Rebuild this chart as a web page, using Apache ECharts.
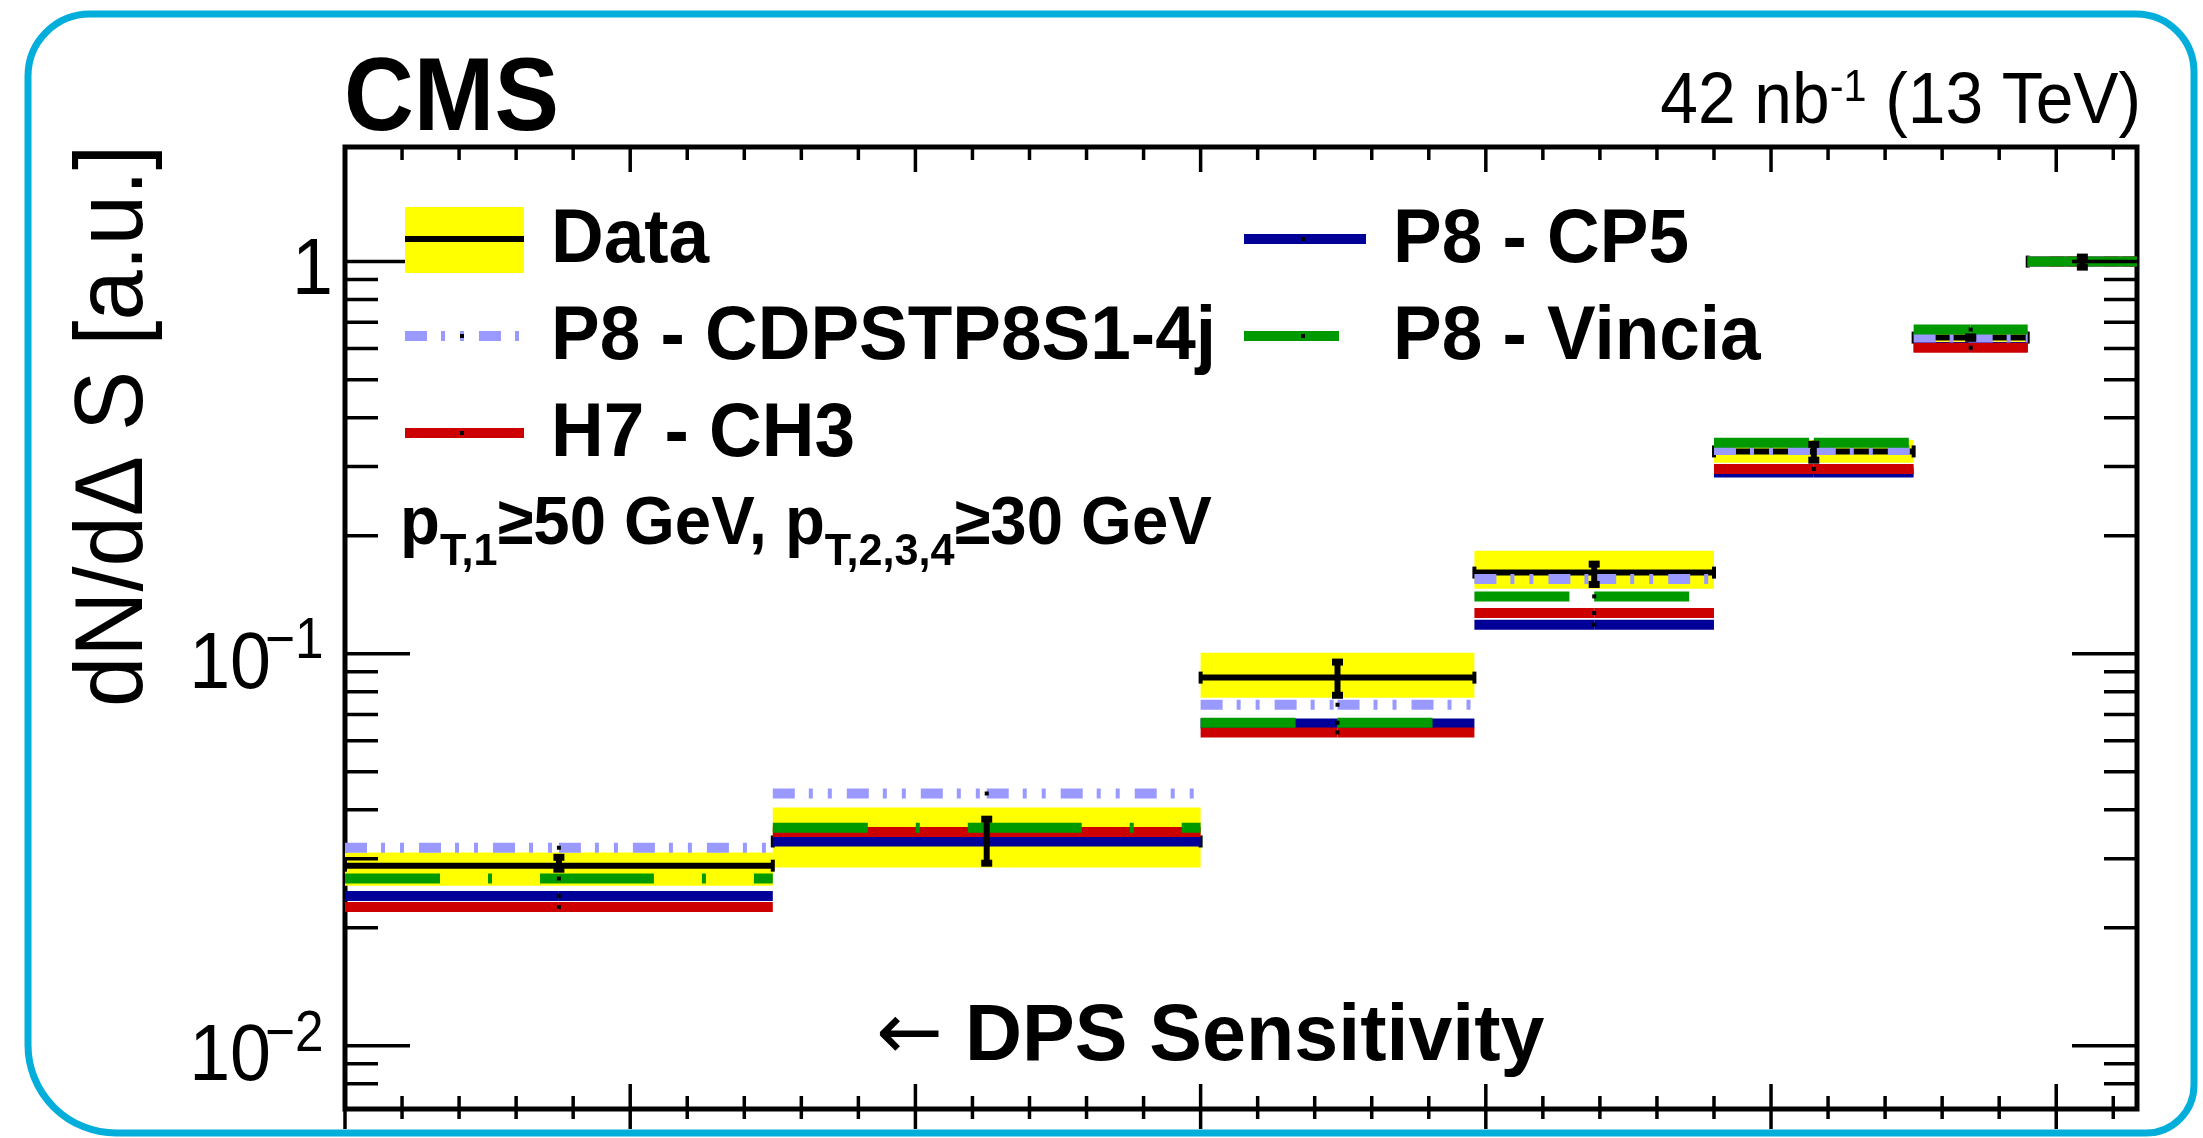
<!DOCTYPE html>
<html>
<head>
<meta charset="utf-8">
<title>dN/dΔS</title>
<script src="https://cdn.jsdelivr.net/npm/echarts@6/dist/echarts.min.js"></script>
<style>
  html, body { margin: 0; padding: 0; background: #ffffff; }
  #chart { width: 2203px; height: 1138px; }
</style>
</head>
<body>
<div id="chart"></div>
<script>
// ΔS bin edges (radians, 0 .. π)
const binEdges = [0, 0.75, 1.5, 1.98, 2.4, 2.75, 2.95, 3.1416];

// Measured distribution: central value, statistical range, total uncertainty band
const dataValues   = [0.0288, 0.0332, 0.0869, 0.161, 0.328, 0.640, 1.0];
const dataStatLow  = [0.0278, 0.0288, 0.0772, 0.148, 0.307, 0.628, 0.954];
const dataStatHigh = [0.0307, 0.0384, 0.0966, 0.1717, 0.347, 0.652, 1.042];
const bandLow      = [0.0256, 0.0285, 0.0772, 0.1465, 0.307, 0.625, 0.995];
const bandHigh     = [0.0311, 0.0405, 0.1006, 0.183, 0.351, 0.655, 1.005];

// Generator predictions
const cdpsValues   = [0.0320, 0.0440, 0.0741, 0.155, 0.331, 0.640, 1.0];
const h7Values     = [0.0226, 0.0351, 0.0630, 0.127, 0.296, 0.603, 1.0];
const cp5Values    = [0.0241, 0.0332, 0.0664, 0.1186, 0.290, 0.606, 1.0];
const vinciaValues = [0.0267, 0.0360, 0.0667, 0.140, 0.345, 0.671, 1.0];

// Axis ranges, ticks and labels
const xMin = binEdges[0];
const xMax = binEdges[binEdges.length - 1];
const yMin = 0.0069;
const yMax = 1.96;
const xMajorTicks = [0, 0.5, 1, 1.5, 2, 2.5, 3];
const xMinorTicks = [0.1, 0.2, 0.3, 0.4, 0.6, 0.7, 0.8, 0.9, 1.1, 1.2, 1.3, 1.4,
                     1.6, 1.7, 1.8, 1.9, 2.1, 2.2, 2.3, 2.4, 2.6, 2.7, 2.8, 2.9, 3.1];
const yMajorTicks = [0.01, 0.1, 1];
const yMinorTicks = [0.008, 0.009,
                     0.02, 0.03, 0.04, 0.05, 0.06, 0.07, 0.08, 0.09,
                     0.2, 0.3, 0.4, 0.5, 0.6, 0.7, 0.8, 0.9];
const yLabelValues = [0.01, 0.1, 1];
const yLabelBase   = ['10', '10', '1'];
const yLabelExp    = ['\u22122', '\u22121', ''];

const FONT = "'Liberation Sans', Arial, Helvetica, sans-serif";
const COL = {
  band: '#ffff00', data: '#000000', cdps: '#9999ff',
  h7: '#cc0000', cp5: '#000099', vincia: '#009900', frame: '#000000'
};
const DASH_CDPS = [22, 14, 4, 15, 4, 15];
const DASH_VINCIA = [95, 48, 4, 48];

function binRows(values) {
  return values.map((v, i) => [binEdges[i], binEdges[i + 1], v]);
}
function rangeRows(lo, hi) {
  return lo.map((v, i) => [binEdges[i], binEdges[i + 1], v, hi[i]]);
}

function renderBand(params, api) {
  const a = api.coord([api.value(0), api.value(3)]);
  const b = api.coord([api.value(1), api.value(2)]);
  return { type: 'rect', shape: { x: a[0], y: a[1], width: b[0] - a[0], height: b[1] - a[1] },
           style: { fill: COL.band } };
}

function renderDataLine(params, api) {
  const v = api.value(2);
  const a = api.coord([api.value(0), v]);
  const b = api.coord([api.value(1), v]);
  return { type: 'group', children: [
    { type: 'line', shape: { x1: a[0], y1: a[1], x2: b[0], y2: b[1] },
      style: { stroke: COL.data, lineWidth: 6 } },
    { type: 'rect', shape: { x: a[0] - 2, y: a[1] - 6, width: 4, height: 12 }, style: { fill: COL.data } },
    { type: 'rect', shape: { x: b[0] - 2, y: b[1] - 6, width: 4, height: 12 }, style: { fill: COL.data } }
  ] };
}

function renderErrorBar(params, api) {
  const lo = api.coord([api.value(0), api.value(2)]);
  const hi = api.coord([api.value(1), api.value(3)]);
  const xc = (lo[0] + hi[0]) / 2;
  return { type: 'group', children: [
    { type: 'line', shape: { x1: xc, y1: hi[1], x2: xc, y2: lo[1] },
      style: { stroke: COL.data, lineWidth: 6 } },
    { type: 'rect', shape: { x: xc - 5.5, y: hi[1] - 1, width: 11, height: 7 }, style: { fill: COL.data } },
    { type: 'rect', shape: { x: xc - 5.5, y: lo[1] - 6, width: 11, height: 7 }, style: { fill: COL.data } }
  ] };
}

// Each half-bin is stroked separately, so dash patterns restart at the bin centre
function modelRenderer(color, dash) {
  return function (params, api) {
    const v = api.value(2);
    const a = api.coord([api.value(0), v]);
    const b = api.coord([api.value(1), v]);
    const mid = (a[0] + b[0]) / 2;
    const st = () => {
      const s = { stroke: color, lineWidth: 10, lineCap: 'butt' };
      if (dash) s.lineDash = dash;
      return s;
    };
    return { type: 'group', children: [
      { type: 'line', shape: { x1: a[0], y1: a[1], x2: mid, y2: a[1] }, style: st() },
      { type: 'line', shape: { x1: mid, y1: a[1], x2: b[0], y2: a[1] }, style: st() },
      { type: 'rect', shape: { x: mid - 2, y: a[1] - 2, width: 4, height: 4 }, style: { fill: '#000' } }
    ] };
  };
}

function renderYTick(params, api) {
  const v = api.value(1);
  const major = api.value(2) === 1;
  const l = api.coord([xMin, v]);
  const r = api.coord([xMax, v]);
  const len = major ? 65 : 33;
  const st = { stroke: COL.frame, lineWidth: 3.5 };
  return { type: 'group', children: [
    { type: 'line', shape: { x1: l[0], y1: l[1], x2: l[0] + len, y2: l[1] }, style: st },
    { type: 'line', shape: { x1: r[0] - len, y1: r[1], x2: r[0], y2: r[1] }, style: Object.assign({}, st) }
  ] };
}

function renderXTick(params, api) {
  const v = api.value(0);
  const major = api.value(2) === 1;
  const t = api.coord([v, yMax]);
  const b = api.coord([v, yMin]);
  const up = major ? 25 : 13;
  const down = major ? 20 : 10;
  const st = { stroke: COL.frame, lineWidth: 3.5 };
  return { type: 'group', children: [
    { type: 'line', shape: { x1: t[0], y1: t[1], x2: t[0], y2: t[1] + up }, style: st },
    { type: 'line', shape: { x1: b[0], y1: b[1] - up, x2: b[0], y2: b[1] + down }, style: Object.assign({}, st) }
  ] };
}

function renderYLabel(params, api) {
  const i = api.value(2);
  const p = api.coord([xMin, api.value(1)]);
  const base = yLabelBase[i];
  const exp = yLabelExp[i];
  const children = [];
  if (exp) {
    children.push({ type: 'text', x: p[0] - 74, y: p[1] + 12, scaleX: 0.92,
      style: { text: base, fontSize: 80, fontFamily: FONT, fill: '#000',
               align: 'right', textAlign: 'right', verticalAlign: 'middle', textVerticalAlign: 'middle' } });
    children.push({ type: 'text', x: p[0] - 80, y: p[1] - 11, scaleX: 0.9,
      style: { text: exp, fontSize: 57, fontFamily: FONT, fill: '#000',
               align: 'left', textAlign: 'left', verticalAlign: 'middle', textVerticalAlign: 'middle' } });
  } else {
    children.push({ type: 'text', x: p[0] - 12, y: p[1] + 10, scaleX: 0.92,
      style: { text: base, fontSize: 80, fontFamily: FONT, fill: '#000',
               align: 'right', textAlign: 'right', verticalAlign: 'middle', textVerticalAlign: 'middle' } });
  }
  return { type: 'group', children };
}

const xTickRows = xMajorTicks.map(v => [v, 1, 1]).concat(xMinorTicks.map(v => [v, 1, 0]));
const yTickRows = yMajorTicks.map(v => [0, v, 1]).concat(yMinorTicks.map(v => [0, v, 0]));
const yLabelRows = yLabelValues.map((v, i) => [0, v, i]);

function txt(x, y, text, size, weight, scaleX, align, extra) {
  return {
    type: 'text', x, y, scaleX, z: 100,
    style: Object.assign({ text, fontSize: size, fontWeight: weight, fontFamily: FONT, fill: '#000',
      align, textAlign: align, verticalAlign: 'middle', textVerticalAlign: 'middle' }, extra || {})
  };
}
function legLine(x1, x2, y, color, width, dash) {
  const style = { stroke: color, lineWidth: width };
  if (dash) style.lineDash = dash;
  return { type: 'line', z: 100, shape: { x1, y1: y, x2, y2: y }, style };
}
function dot(x, y) {
  return { type: 'rect', z: 101, shape: { x: x - 2, y: y - 2, width: 4, height: 4 }, style: { fill: '#000' } };
}

const graphics = [
  // rounded outer border
  { type: 'rect', z: 200, shape: { x: 28, y: 14, width: 2166, height: 1119, r: [62, 58, 48, 88] },
    style: { fill: 'none', stroke: '#03aedb', lineWidth: 7 } },
  txt(344, 101, 'CMS', 104, 'bold', 0.93, 'left'),
  txt(2141, 103, '42 nb{s|-1} (13 TeV)', 72, 'normal', 0.94, 'right',
      { lineHeight: 72, rich: { s: { fontSize: 44, fontFamily: FONT, lineHeight: 16, verticalAlign: 'top' } } }),
  Object.assign(txt(116, 145, 'dN/d\u0394 S [a.u.]', 96, 'normal', 0.94, 'right'), { rotation: Math.PI / 2 }),
  // legend
  { type: 'rect', z: 100, shape: { x: 405, y: 207, width: 119, height: 66 }, style: { fill: COL.band } },
  legLine(405, 524, 239, COL.data, 6),
  legLine(405, 524, 336, COL.cdps, 10, DASH_CDPS), dot(462, 336),
  legLine(405, 524, 433, COL.h7, 10), dot(462, 433),
  legLine(1244, 1366, 239, COL.cp5, 10), dot(1303, 239),
  legLine(1244, 1366, 336, COL.vincia, 10, DASH_VINCIA), dot(1303, 336),
  txt(551, 241, 'Data', 76, 'bold', 0.96, 'left'),
  txt(551, 338, 'P8 - CDPSTP8S1-4j', 76, 'bold', 0.96, 'left'),
  txt(551, 435, 'H7 - CH3', 76, 'bold', 0.96, 'left'),
  txt(1393, 241, 'P8 - CP5', 76, 'bold', 0.96, 'left'),
  txt(1393, 338, 'P8 - Vincia', 76, 'bold', 0.96, 'left'),
  txt(400, 525, 'p{b|T,1}\u226550 GeV, p{b|T,2,3,4}\u226530 GeV', 68, 'bold', 0.96, 'left',
      { lineHeight: 100, rich: { b: { fontSize: 45, fontWeight: 'bold', fontFamily: FONT, lineHeight: 16, verticalAlign: 'bottom' } } }),
  txt(876, 1038, '{a|\u2190} DPS Sensitivity', 79, 'bold', 1.0, 'left',
      { lineHeight: 90, rich: { a: { fontSize: 80, fontWeight: 'normal', fontFamily: "'DejaVu Sans', sans-serif", lineHeight: 90, verticalAlign: 'middle' } } })
];

const option = {
  animation: false,
  backgroundColor: '#ffffff',
  grid: { left: 345, right: 66, top: 147, bottom: 29, show: true,
          borderColor: COL.frame, borderWidth: 5, backgroundColor: 'rgba(0,0,0,0)' },
  xAxis: { type: 'value', min: xMin, max: xMax,
           axisLine: { show: false }, axisTick: { show: false }, axisLabel: { show: false }, splitLine: { show: false } },
  yAxis: { type: 'log', logBase: 10, min: yMin, max: yMax,
           axisLine: { show: false }, axisTick: { show: false }, axisLabel: { show: false }, splitLine: { show: false } },
  series: [
    { type: 'custom', name: 'Data band', z: 1, renderItem: renderBand,
      encode: { x: [0, 1], y: [2, 3] }, data: rangeRows(bandLow, bandHigh) },
    { type: 'custom', name: 'Data', z: 2, renderItem: renderDataLine,
      encode: { x: [0, 1], y: 2 }, data: binRows(dataValues) },
    { type: 'custom', name: 'P8 - CP5', z: 3, renderItem: modelRenderer(COL.cp5, null),
      encode: { x: [0, 1], y: 2 }, data: binRows(cp5Values) },
    { type: 'custom', name: 'H7 - CH3', z: 4, renderItem: modelRenderer(COL.h7, null),
      encode: { x: [0, 1], y: 2 }, data: binRows(h7Values) },
    { type: 'custom', name: 'P8 - CDPSTP8S1-4j', z: 5, renderItem: modelRenderer(COL.cdps, DASH_CDPS),
      encode: { x: [0, 1], y: 2 }, data: binRows(cdpsValues) },
    { type: 'custom', name: 'P8 - Vincia', z: 6, renderItem: modelRenderer(COL.vincia, DASH_VINCIA),
      encode: { x: [0, 1], y: 2 }, data: binRows(vinciaValues) },
    { type: 'custom', name: 'Data stat', z: 7, renderItem: renderErrorBar,
      encode: { x: [0, 1], y: [2, 3] }, data: rangeRows(dataStatLow, dataStatHigh) },
    { type: 'custom', name: 'x ticks', z: 8, renderItem: renderXTick, silent: true,
      encode: { x: 0, y: 1 }, data: xTickRows },
    { type: 'custom', name: 'y ticks', z: 8, renderItem: renderYTick, silent: true,
      encode: { x: 0, y: 1 }, data: yTickRows },
    { type: 'custom', name: 'y labels', z: 9, renderItem: renderYLabel, silent: true,
      encode: { x: 0, y: 1 }, data: yLabelRows }
  ],
  graphic: { elements: graphics }
};

const chart = echarts.init(document.getElementById('chart'), null, { renderer: 'canvas', width: 2203, height: 1138 });
chart.setOption(option);
</script>
</body>
</html>
